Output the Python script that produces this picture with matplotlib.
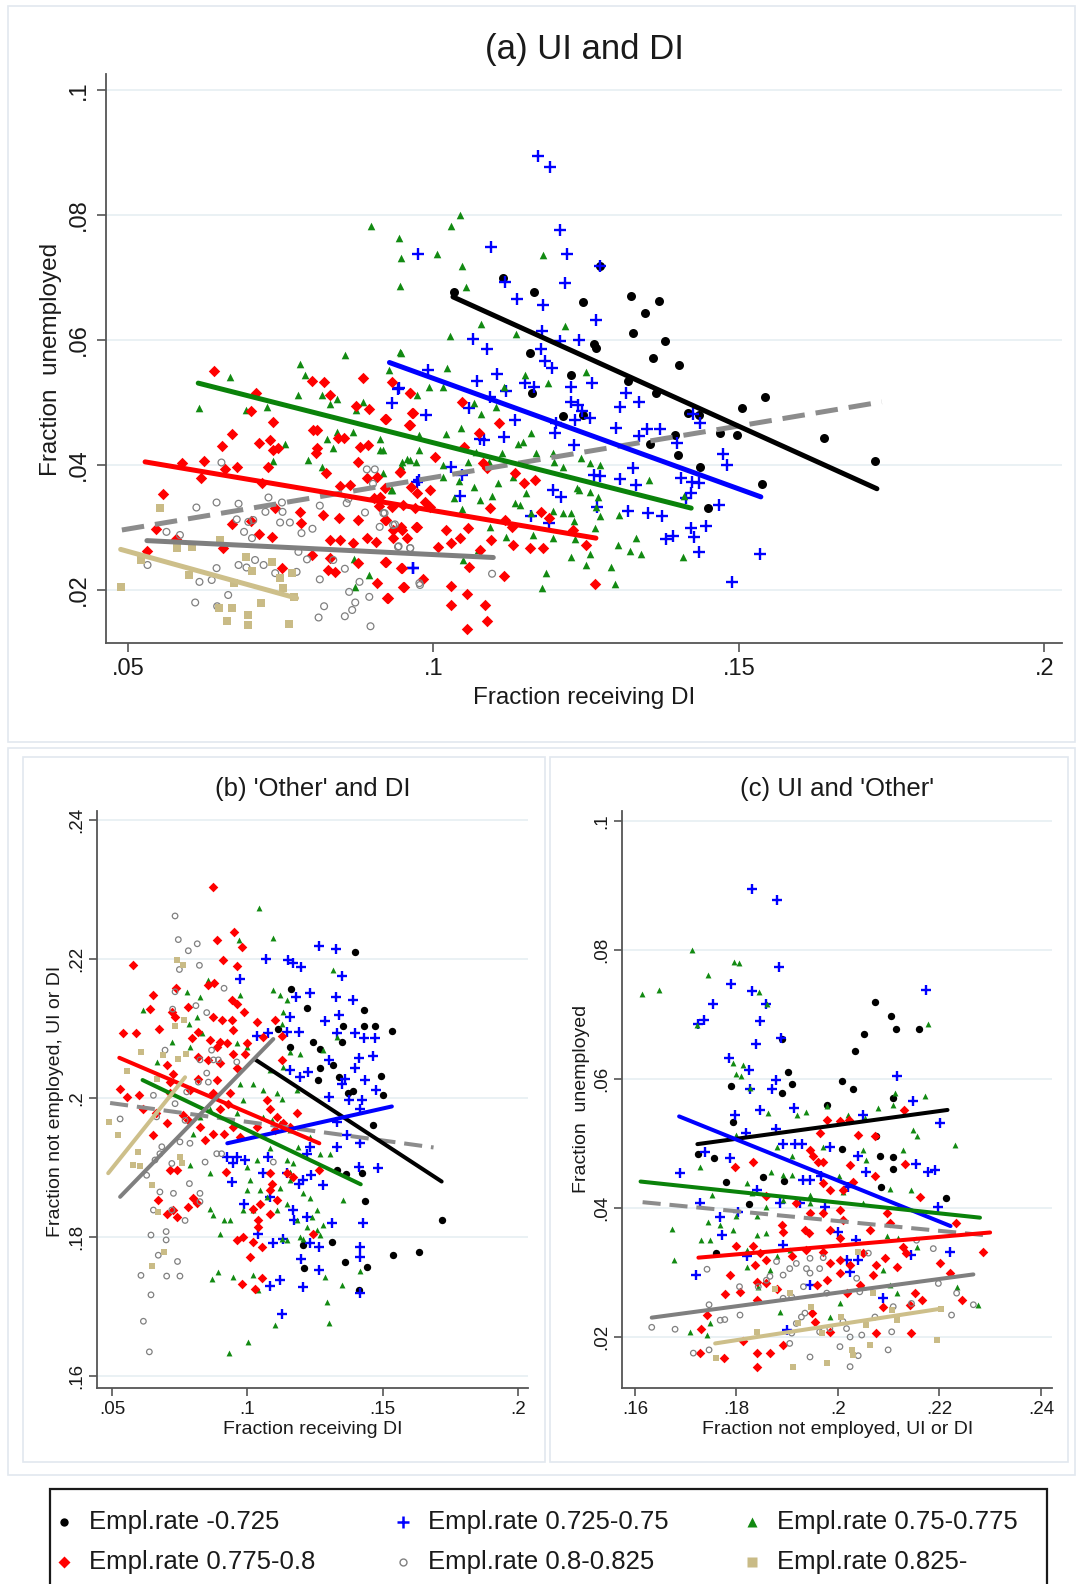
import numpy as np
import matplotlib.pyplot as plt
from matplotlib.patches import Rectangle
from matplotlib.lines import Line2D

plt.rcParams['font.family'] = ['Liberation Sans', 'DejaVu Sans']

W, H = 1079, 1584
TXT = '#1a1a1a'

groups = ['Empl.rate -0.725', 'Empl.rate 0.725-0.75', 'Empl.rate 0.75-0.775',
          'Empl.rate 0.775-0.8', 'Empl.rate 0.8-0.825', 'Empl.rate 0.825-']

# ---------------- panel (a): x = fraction receiving DI, y = fraction unemployed
a_black = [(.1034,.0677),(.1114,.0699),(.1164,.0677),(.1245,.0661),(.1323,.0670),(.1369,.0662),
           (.1346,.0643),(.1327,.0611),(.1379,.0598),(.1263,.0594),(.1266,.0587),(.1158,.0579),
           (.1225,.0544),(.1359,.0571),(.1402,.0560),(.1161,.0515),(.1212,.0478),(.1245,.0480),
           (.1318,.0534),(.1364,.0515),(.1417,.0483),(.1435,.0480),(.1395,.0448),(.1354,.0434),
           (.1400,.0416),(.1469,.0451),(.1497,.0448),(.1436,.0397),(.1449,.0331),(.1272,.0718),
           (.1505,.0491),(.1543,.0509),(.1639,.0443),(.1723,.0406),(.1538,.0370)]
a_blue = [(.1171,.0894),(.1191,.0877),(.1207,.0776),(.1095,.0748),(.0974,.0738),(.1218,.0737),
          (.1215,.0691),(.1117,.0693),(.1137,.0665),(.1180,.0656),(.1266,.0632),(.1272,.0718),
          (.1064,.0602),(.1087,.0585),(.1178,.0615),(.1238,.0600),(.1207,.0598),(.1176,.0586),
          (.1183,.0567),(.1194,.0555),(.0991,.0552),(.1104,.0545),(.1071,.0535),(.1150,.0532),
          (.1165,.0525),(.1118,.0519),(.0944,.0523),(.0932,.0499),(.1226,.0525),(.1260,.0532),
          (.1316,.0516),(.1336,.0501),(.1306,.0493),(.1225,.0501),(.1237,.0496),(.1059,.0492),
          (.1092,.0509),(.0988,.0480),(.1133,.0472),(.1201,.0467),(.1244,.0487),(.1257,.0476),
          (.1199,.0451),(.1232,.0472),(.1299,.0459),(.1349,.0458),(.1371,.0457),(.1337,.0446),
          (.1399,.0436),(.1425,.0482),(.1437,.0467),(.1474,.0417),(.1481,.0400),(.1230,.0432),
          (.1263,.0384),(.1273,.0382),(.1326,.0395),(.1332,.0368),(.1305,.0377),(.1406,.0380),
          (.1423,.0373),(.1434,.0371),(.1195,.0360),(.1209,.0349),(.1043,.0351),(.1047,.0384),
          (.1076,.0441),(.1083,.0440),(.1116,.0445),(.1029,.0397),(.0976,.0376),(.1268,.0333),
          (.1318,.0326),(.1352,.0323),(.1374,.0318),(.1422,.0355),(.1467,.0336),(.1421,.0299),
          (.1447,.0303),(.1427,.0285),(.1381,.0282),(.1393,.0287),(.1434,.0261),(.1489,.0213),
          (.1160,.0318),(.1190,.0307),(.0967,.0235),(.1414,.0347),(.1534,.0258),(.0942,.0522),
          (.0966,.0235),(.0973,.0373)]
a_green = [(.1044,.0800),(.1029,.0782),(.0944,.0763),(.0947,.0732),(.1006,.0738),(.1046,.0718),
           (.0945,.0687),(.1053,.0685),(.1179,.0736),(.1078,.0626),(.1027,.0606),(.1136,.0609),
           (.1216,.0623),(.0946,.0581),(.0928,.0552),(.1023,.0556),(.0993,.0525),(.1016,.0525),
           (.1115,.0525),(.1150,.0544),(.1188,.0531),(.1249,.0549),(.1067,.0499),(.1103,.0493),
           (.0976,.0448),(.1021,.0449),(.1045,.0460),(.1078,.0482),(.1160,.0451),(.1138,.0434),
           (.1147,.0437),(.1196,.0419),(.1168,.0420),(.1113,.0419),(.0977,.0424),(.1070,.0421),
           (.0971,.0405),(.1015,.0400),(.1057,.0405),(.1091,.0405),(.0957,.0409),(.0947,.0398),
           (.1016,.0381),(.1042,.0374),(.1066,.0365),(.1106,.0371),(.1130,.0381),(.1152,.0355),
           (.1133,.0339),(.1096,.0350),(.1076,.0344),(.1033,.0348),(.1046,.0329),(.1141,.0336),
           (.1160,.0323),(.1196,.0327),(.1212,.0324),(.1226,.0324),(.1235,.0363),(.1239,.0360),
           (.1256,.0357),(.1269,.0349),(.1266,.0333),(.1272,.0318),(.1264,.0300),(.1196,.0283),
           (.1163,.0288),(.1119,.0285),(.1092,.0301),(.1073,.0264),(.1048,.0248),(.1230,.0310),
           (.1231,.0282),(.1226,.0253),(.1256,.0257),(.1249,.0240),(.1302,.0272),(.1332,.0283),
           (.1321,.0263),(.1340,.0257),(.1409,.0253),(.1353,.0376),(.1272,.0400),(.1256,.0403),
           (.1241,.0411),(.1212,.0397),(.0931,.0360),(.1185,.0227),(.1177,.0203),(.1298,.0209),
           (.1291,.0237),(.1304,.0320),(.1411,.0350),(.1198,.0405),(.0917,.0387),(.0917,.0424),
           (.0667,.0541),(.0617,.0492),(.0727,.0493),(.0694,.0488),(.0782,.0561),(.0790,.0544),
           (.0779,.0512),(.0817,.0512),(.0842,.0505),(.0831,.0498),(.0855,.0576),(.0947,.0580),
           (.0885,.0501),(.0874,.0488),(.0757,.0433),(.0825,.0441),(.0835,.0427),(.0795,.0408),
           (.0817,.0397),(.0913,.0441),(.0912,.0424),(.0738,.0406),(.0869,.0453),(.0842,.0453),
           (.0948,.0405),(.0962,.0408),(.0932,.0360),(.0895,.0224),(.0870,.0249),(.0872,.0205),
           (.0973,.0512),(.0898,.0782)]
a_red = [(.0641,.0551),(.0710,.0516),(.0701,.0486),(.0737,.0469),(.0671,.0450),(.0654,.0430),
         (.0715,.0436),(.0732,.0440),(.0738,.0424),(.0746,.0428),(.0730,.0397),(.0802,.0534),
         (.0821,.0533),(.0831,.0512),(.0885,.0539),(.0962,.0516),(.0966,.0484),(.0961,.0464),
         (.0874,.0494),(.0895,.0490),(.0921,.0473),(.0803,.0456),(.0810,.0456),(.0843,.0443),
         (.0853,.0444),(.0809,.0427),(.0807,.0420),(.0880,.0429),(.0893,.0432),(.0877,.0405),
         (.0824,.0387),(.0891,.0379),(.0907,.0381),(.0921,.0363),(.0945,.0389),(.0589,.0403),
         (.0625,.0406),(.0659,.0393),(.0678,.0397),(.0619,.0379),(.0719,.0371),(.0557,.0354),
         (.0546,.0297),(.0531,.0263),(.0579,.0281),(.0656,.0267),(.0671,.0306),(.0701,.0311),
         (.0715,.0290),(.0735,.0285),(.0741,.0331),(.0782,.0325),(.0784,.0307),(.0820,.0320),
         (.0845,.0315),(.0864,.0368),(.0847,.0366),(.0877,.0312),(.0831,.0280),(.0847,.0280),
         (.0869,.0275),(.0891,.0283),(.0906,.0277),(.0923,.0312),(.0934,.0296),(.0948,.0296),
         (.0956,.0283),(.0973,.0301),(.0752,.0236),(.0801,.0256),(.0831,.0251),(.0828,.0232),
         (.0839,.0229),(.0877,.0243),(.0921,.0245),(.0948,.0235),(.0952,.0205),(.0926,.0188),
         (.0907,.0211),(.0970,.0331),(.0973,.0355),(.0933,.0333),(.0902,.0347),(.0911,.0334),
         (.0932,.0533),(.0961,.0516),(.0965,.0483),(.0960,.0464),(.0923,.0473),(.1046,.0501),
         (.1107,.0468),(.1075,.0452),(.1002,.0413),(.1050,.0429),(.1081,.0404),(.1087,.0395),
         (.0945,.0389),(.0964,.0365),(.0995,.0360),(.1133,.0387),(.1148,.0371),(.1166,.0376),
         (.0912,.0349),(.0950,.0336),(.0986,.0341),(.0995,.0333),(.1021,.0296),(.0972,.0301),
         (.0920,.0312),(.0947,.0301),(.0934,.0283),(.1029,.0275),(.1043,.0283),(.1007,.0269),
         (.1057,.0299),(.1092,.0331),(.1117,.0312),(.1128,.0301),(.1130,.0272),(.1158,.0268),
         (.1179,.0267),(.1176,.0325),(.1190,.0316),(.1228,.0296),(.1250,.0272),(.1095,.0280),
         (.1059,.0237),(.0923,.0245),(.0947,.0235),(.0983,.0217),(.0951,.0205),(.1029,.0206),
         (.1055,.0194),(.1115,.0222),(.1029,.0176),(.1084,.0176),(.1087,.0150),(.1055,.0138),
         (.0924,.0188),(.1264,.0210),(.1076,.0264)]
a_gray = [(.0653,.0404),(.0645,.0340),(.0612,.0332),(.0563,.0293),(.0585,.0288),(.0678,.0313),
          (.0681,.0338),(.0697,.0309),(.0705,.0312),(.0690,.0293),(.0703,.0283),(.0730,.0348),
          (.0752,.0340),(.0725,.0325),(.0753,.0325),(.0749,.0308),(.0765,.0308),(.0784,.0291),
          (.0802,.0298),(.0814,.0335),(.0861,.0346),(.0891,.0393),(.0904,.0393),(.0901,.0370),
          (.0888,.0324),(.0918,.0323),(.0937,.0305),(.0962,.0267),(.0978,.0208),(.0943,.0270),
          (.0722,.0240),(.0741,.0227),(.0694,.0236),(.0645,.0235),(.0637,.0216),(.0617,.0213),
          (.0664,.0192),(.0610,.0180),(.0646,.0174),(.0681,.0240),(.0708,.0248),(.0776,.0229),
          (.0814,.0217),(.0821,.0174),(.0812,.0156),(.0855,.0158),(.0867,.0168),(.0872,.0180),
          (.0862,.0197),(.0879,.0213),(.0895,.0189),(.0897,.0142),(.0855,.0234),(.0836,.0248),
          (.0793,.0249),(.0779,.0261),(.0532,.0240),(.0858,.0339),(.0920,.0323),(.0934,.0304),
          (.0912,.0301),(.0942,.0269),(.0962,.0267),(.0977,.0211),(.1096,.0226)]
a_tan = [(.0552,.0332),(.0488,.0205),(.0522,.0248),(.0581,.0267),(.0604,.0269),(.0651,.0280),
         (.0600,.0224),(.0674,.0211),(.0694,.0253),(.0703,.0231),(.0735,.0245),(.0749,.0220),
         (.0768,.0227),(.0754,.0203),(.0771,.0189),(.0717,.0180),(.0671,.0172),(.0649,.0171),
         (.0662,.0151),(.0697,.0160),(.0697,.0144),(.0763,.0145)]

# ---------------- panel (b): x = fraction receiving DI, y = fraction not employed
b_black = [(.1396,.2210),(.1162,.2157),(.1221,.2129),(.1431,.2127),(.1355,.2104),(.1431,.2104),
           (.1473,.2104),(.1534,.2096),(.1112,.2100),(.1349,.2081),(.1242,.2080),(.1269,.2070),
           (.1158,.2073),(.1269,.2044),(.1318,.2047),(.1340,.2031),(.1261,.2026),(.1373,.2008),
           (.1392,.2010),(.1494,.2032),(.1503,.2004),(.1466,.1962),(.1330,.1896),(.1364,.1891),
           (.1425,.1892),(.1435,.1852),(.1718,.1824),(.1314,.1793),(.1207,.1788),(.1210,.1755),
           (.1361,.1764),(.1441,.1757),(.1537,.1774),(.1636,.1779),(.1414,.1724)]
b_blue = [(.1266,.2219),(.1327,.2214),(.1069,.2200),(.1152,.2198),(.1170,.2195),(.1197,.2189),
          (.0973,.2172),(.1349,.2175),(.1180,.2146),(.1232,.2151),(.1327,.2146),(.1390,.2141),
          (.1158,.2117),(.1287,.2111),(.1337,.2119),(.1330,.2094),(.1398,.2093),(.1431,.2086),
          (.1472,.2086),(.1192,.2095),(.1035,.2089),(.1078,.2093),(.1146,.2095),(.1414,.2058),
          (.1463,.2060),(.1398,.2043),(.1303,.2055),(.1158,.2040),(.1195,.2031),(.1226,.2038),
          (.1362,.2028),(.1435,.2026),(.1349,.2021),(.1303,.2002),(.1377,.1997),(.1423,.1998),
          (.1476,.2011),(.1417,.1985),(.1330,.1966),(.1367,.1947),(.1417,.1935),(.1232,.1930),
          (.1220,.1920),(.1330,.1930),(.0924,.1916),(.0961,.1916),(.0992,.1911),(.0946,.1907),
          (.1078,.1916),(.1059,.1892),(.1146,.1892),(.1207,.1882),(.1234,.1889),(.1281,.1875),
          (.1192,.1877),(.1414,.1901),(.1484,.1899),(.0942,.1880),(.0986,.1848),(.1084,.1858),
          (.1168,.1839),(.1173,.1824),(.1220,.1829),(.1312,.1820),(.1429,.1820),(.1096,.1791),
          (.1133,.1798),(.1232,.1791),(.1263,.1786),(.1417,.1786),(.1417,.1772),(.1197,.1768),
          (.1266,.1753),(.1121,.1738),(.1082,.1730),(.1207,.1729),(.1417,.1719),(.1127,.1689),
          (.1041,.1805)]
b_green = [(.1043,.2273),(.1094,.2230),(.0971,.2227),(.0776,.2153),(.0825,.2146),(.0856,.2170),
           (.0973,.2148),(.1094,.2155),(.1121,.2148),(.1146,.2141),(.1133,.2124),(.1127,.2107),
           (.0813,.2117),(.0786,.2107),(.0616,.2127),(.0721,.2081),(.0665,.2052),(.0788,.2074),
           (.0831,.2093),(.0961,.2079),(.0998,.2074),(.1158,.2067),(.1195,.2064),(.1084,.2040),
           (.1133,.2045),(.1318,.2184),(.1330,.2088),(.1281,.2069),(.0973,.2021),(.1022,.2021),
           (.1059,.2011),(.1109,.2007),(.1127,.1999),(.1183,.2011),(.0985,.1997),(.0961,.1978),
           (.0862,.1985),(.0825,.1973),(.0801,.1949),(.1059,.1973),(.1090,.1968),(.1121,.1964),
           (.1158,.1954),(.1189,.1930),(.1232,.1944),(.1269,.1920),(.1306,.1920),(.1084,.1928),
           (.1146,.1911),(.1170,.1906),(.1158,.1894),(.1035,.1911),(.0998,.1901),(.0862,.1892),
           (.0788,.1904),(.1010,.1882),(.1047,.1868),(.1121,.1870),(.1158,.1882),(.1207,.1863),
           (.1232,.1856),(.1256,.1839),(.1355,.1853),(.1146,.1848),(.1109,.1839),(.1183,.1824),
           (.1220,.1815),(.1281,.1817),(.0998,.1868),(.0985,.1839),(.0936,.1824),(.0912,.1824),
           (.0862,.1841),(.0899,.1805),(.1127,.1798),(.1146,.1796),(.1195,.1800),(.1256,.1810),
           (.1269,.1803),(.1417,.1752),(.1349,.1731),(.1287,.1743),(.1022,.1745),(.0948,.1743),
           (.0893,.1750),(.0868,.1740),(.1293,.1707),(.1300,.1676),(.1102,.1673),(.1004,.1649),
           (.1041,.1724),(.1207,.1798),(.0875,.1832),(.1072,.1858),(.1022,.1839),(.1238,.1829),
           (.0933,.1634)]
b_red = [(.0872,.2303),(.0951,.2239),(.0887,.2228),(.0979,.2217),(.0909,.2199),(.0961,.2190),
         (.0576,.2191),(.0856,.2162),(.0878,.2166),(.0737,.2159),(.0653,.2148),(.0640,.2128),
         (.0782,.2131),(.0942,.2141),(.0961,.2136),(.0988,.2124),(.0721,.2124),(.0733,.2117),
         (.0875,.2116),(.0905,.2113),(.0942,.2113),(.1035,.2110),(.1102,.2112),(.0675,.2100),
         (.0542,.2094),(.0589,.2093),(.0819,.2095),(.0948,.2098),(.1127,.2089),(.1059,.2088),
         (.0794,.2086),(.0862,.2083),(.0899,.2081),(.0924,.2079),(.0998,.2079),(.0887,.2074),
         (.0948,.2064),(.0992,.2064),(.0702,.2047),(.0819,.2059),(.0856,.2055),(.0899,.2050),
         (.0961,.2043),(.1127,.2055),(.0724,.2035),(.0714,.2023),(.0819,.2028),(.0887,.2026),
         (.0788,.2011),(.0875,.2007),(.0936,.2007),(.0530,.2013),(.0557,.2001),(.0601,.2004),
         (.0714,.2007),(.0930,.1992),(.0899,.1985),(.0616,.1985),(.0663,.1978),(.0702,.1964),
         (.0764,.1976),(.0825,.1959),(.0844,.1940),(.0875,.1948),(.0912,.1949),(.0948,.1959),
         (.0973,.1944),(.0653,.1947),(.1072,.1997),(.1084,.1985),(.1109,.1973),(.1133,.1964),
         (.1158,.1959),(.1183,.1978),(.1102,.1954),(.1035,.1959),(.0782,.1968),(.0714,.1896),
         (.0739,.1896),(.0921,.1893),(.1084,.1892),(.1090,.1877),(.1146,.1892),(.1170,.1887),
         (.1263,.1896),(.1084,.1868),(.1109,.1853),(.1047,.1848),(.1084,.1834),(.1022,.1841),
         (.1041,.1824),(.1041,.1815),(.0671,.1853),(.0727,.1839),(.0801,.1856),(.0813,.1849),
         (.0782,.1844),(.0702,.1834),(.0739,.1829),(.0961,.1796),(.0985,.1800),(.1022,.1793),
         (.1053,.1786),(.1010,.1772),(.1244,.1805),(.0979,.1733),(.1028,.1726),(.1056,.1741)]
b_gray = [(.0733,.2262),(.0745,.2228),(.0782,.2212),(.0815,.2222),(.0823,.2191),(.0749,.2185),
          (.0914,.2158),(.0733,.2153),(.0810,.2133),(.0850,.2123),(.0724,.2128),(.0696,.2069),
          (.0868,.2069),(.0825,.2055),(.0875,.2055),(.0893,.2055),(.0961,.2052),(.0850,.2036),
          (.0819,.2023),(.0856,.2023),(.0653,.2004),(.0776,.2009),(.0733,.1992),(.0665,.1973),
          (.0530,.1970),(.0770,.1968),(.0751,.1937),(.0788,.1935),(.0684,.1930),(.0887,.1920),
          (.0905,.1920),(.0844,.1908),(.0677,.1920),(.0659,.1911),(.0721,.1906),(.0628,.1889),
          (.0786,.1877),(.0677,.1865),(.0727,.1863),(.0825,.1863),(.0825,.1851),(.0653,.1839),
          (.0721,.1839),(.0770,.1824),(.0644,.1803),(.0700,.1808),(.0700,.1796),(.0671,.1774),
          (.0742,.1765),(.0607,.1745),(.0702,.1744),(.0751,.1744),(.0644,.1717),(.0616,.1679),
          (.0638,.1635),(.1096,.1908)]
b_tan = [(.0739,.2199),(.0764,.2191),(.0606,.2066),(.0554,.2039),(.0690,.2062),(.0745,.2056),
         (.0774,.2063),(.0733,.2104),(.0766,.2112),(.0665,.2028),(.0490,.1965),(.0523,.1947),
         (.0597,.1922),(.0579,.1904),(.0604,.1903),(.0751,.1916),(.0757,.1906),(.0647,.1875),
         (.0671,.1836),(.0692,.1779),(.0647,.1758)]

# ---------------- panel (c): x = fraction not employed, y = fraction unemployed
c_black = [(.2074,.0719),(.2104,.0697),(.2114,.0677),(.2160,.0677),(.2051,.0669),(.2033,.0643),
           (.1889,.0662),(.1902,.0611),(.1909,.0592),(.1889,.0578),(.1789,.0589),(.1794,.0533),
           (.2009,.0597),(.2029,.0585),(.1978,.0559),(.2108,.0571),(.1725,.0483),(.1756,.0477),
           (.1779,.0441),(.1853,.0448),(.1894,.0442),(.1825,.0406),(.2008,.0492),(.2076,.0512),
           (.2083,.0480),(.2108,.0479),(.2108,.0460),(.2084,.0433),(.2213,.0415),(.1760,.0330)]
c_blue = [(.1830,.0894),(.1880,.0877),(.1884,.0774),(.1790,.0748),(.1831,.0737),(.1859,.0717),
          (.1753,.0716),(.1737,.0691),(.1725,.0686),(.1846,.0690),(.1838,.0655),(.1888,.0663),
          (.1786,.0632),(.1825,.0614),(.1878,.0599),(.1871,.0584),(.1826,.0584),(.1797,.0544),
          (.1846,.0552),(.1914,.0555),(.1878,.0522),(.1819,.0516),(.1787,.0477),(.1738,.0487),
          (.1689,.0455),(.1891,.0499),(.1915,.0499),(.1930,.0499),(.1932,.0443),(.1945,.0443),
          (.1966,.0449),(.1984,.0495),(.2040,.0480),(.2050,.0544),(.2117,.0604),(.2148,.0566),
          (.2173,.0738),(.2202,.0531),(.2191,.0459),(.2178,.0456),(.2198,.0402),(.2153,.0468),
          (.2056,.0456),(.2020,.0433),(.1974,.0402),(.1925,.0407),(.1886,.0407),(.1840,.0428),
          (.1728,.0408),(.1768,.0386),(.1804,.0394),(.1821,.0325),(.1892,.0343),(.2001,.0363),
          (.2035,.0350),(.2018,.0319),(.2040,.0319),(.2024,.0301),(.1945,.0281),(.2088,.0260),
          (.2145,.0327),(.2221,.0331),(.1720,.0296),(.1771,.0358),(.1899,.0211)]
c_green = [(.1712,.0800),(.1795,.0782),(.1806,.0780),(.1744,.0761),(.1845,.0735),(.1860,.0717),
           (.1723,.0683),(.1648,.0738),(.1613,.0732),(.1794,.0625),(.1813,.0622),(.1800,.0608),
           (.1809,.0605),(.1827,.0586),(.2112,.0579),(.2171,.0574),(.2178,.0686),(.1863,.0547),
           (.1919,.0544),(.1938,.0549),(.1978,.0558),(.2020,.0544),(.2053,.0539),(.2079,.0555),
           (.2109,.0560),(.2148,.0521),(.2155,.0511),(.2230,.0498),(.2129,.0490),(.1799,.0513),
           (.1879,.0495),(.1909,.0480),(.1971,.0495),(.2050,.0490),(.2056,.0474),(.1869,.0456),
           (.1892,.0451),(.1909,.0451),(.1751,.0420),(.1820,.0438),(.1945,.0420),(.2003,.0449),
           (.2010,.0425),(.1945,.0407),(.1892,.0412),(.1859,.0402),(.1830,.0423),(.1840,.0387),
           (.1768,.0374),(.1800,.0387),(.2050,.0407),(.2102,.0430),(.2145,.0428),(.1744,.0379),
           (.1731,.0350),(.1748,.0351),(.1794,.0366),(.1840,.0358),(.1859,.0361),(.1820,.0335),
           (.1879,.0325),(.1905,.0335),(.2096,.0356),(.2119,.0353),(.2155,.0340),(.1820,.0309),
           (.1866,.0304),(.1843,.0278),(.1886,.0239),(.1984,.0231),(.2004,.0252),(.2050,.0278),
           (.2102,.0281),(.2116,.0268),(.2089,.0304),(.2234,.0278),(.2276,.0250),(.1672,.0368),
           (.1676,.0319),(.1748,.0221),(.1708,.0208),(.1741,.0203),(.1728,.0464)]
c_red = [(.2131,.0552),(.1978,.0537),(.2004,.0535),(.2022,.0536),(.1964,.0516),(.2040,.0513),
         (.2073,.0511),(.1945,.0490),(.1951,.0480),(.1961,.0472),(.1971,.0472),(.1832,.0472),
         (.1797,.0464),(.2024,.0467),(.2132,.0468),(.1971,.0438),(.1984,.0428),(.2010,.0428),
         (.2030,.0441),(.2073,.0449),(.2162,.0417),(.1859,.0418),(.1918,.0407),(.1945,.0392),
         (.1971,.0392),(.2004,.0397),(.2010,.0381),(.2096,.0392),(.2102,.0376),(.2232,.0377),
         (.1889,.0374),(.1892,.0363),(.1935,.0366),(.1943,.0361),(.1984,.0366),(.2004,.0353),
         (.2063,.0366),(.1800,.0341),(.1833,.0341),(.1846,.0330),(.1836,.0312),(.1859,.0319),
         (.1909,.0325),(.1938,.0335),(.1971,.0332),(.1984,.0314),(.2004,.0319),(.2024,.0312),
         (.2050,.0330),(.2076,.0312),(.2093,.0322),(.2116,.0309),(.2129,.0340),(.2135,.0330),
         (.2201,.0314),(.2221,.0299),(.1787,.0296),(.1840,.0286),(.1859,.0283),(.1879,.0275),
         (.1777,.0267),(.1807,.0269),(.1840,.0257),(.1958,.0281),(.1978,.0288),(.2004,.0299),
         (.2017,.0268),(.2043,.0281),(.2070,.0296),(.2089,.0247),(.2152,.0268),(.2165,.0257),
         (.2142,.0250),(.2244,.0257),(.1948,.0237),(.1955,.0224),(.1984,.0208),(.2076,.0206),
         (.2145,.0206),(.1741,.0234),(.1731,.0213),(.1728,.0175),(.1840,.0175),(.1866,.0175),
         (.1892,.0188),(.1813,.0193),(.1840,.0154),(.2286,.0332),(.1775,.0167)]
c_gray = [(.1742,.0305),(.1633,.0215),(.1679,.0212),(.1746,.0250),(.1768,.0226),(.1777,.0227),
          (.1807,.0234),(.1746,.0180),(.1715,.0175),(.1843,.0278),(.1866,.0294),(.1892,.0296),
          (.1905,.0306),(.1918,.0314),(.1938,.0306),(.1945,.0322),(.1964,.0306),(.1971,.0323),
          (.1932,.0278),(.1909,.0262),(.1892,.0260),(.1935,.0237),(.1918,.0221),(.1909,.0206),
          (.1905,.0190),(.1928,.0231),(.1964,.0208),(.1984,.0213),(.2010,.0224),(.2017,.0213),
          (.2024,.0200),(.2004,.0185),(.2040,.0171),(.2024,.0154),(.1945,.0169),(.2047,.0203),
          (.2073,.0231),(.2106,.0208),(.2099,.0180),(.2060,.0330),(.2109,.0247),(.2145,.0252),
          (.2155,.0350),(.2188,.0337),(.2198,.0283),(.2224,.0234),(.2234,.0268),(.2267,.0250),
          (.2043,.0270),(.2037,.0291),(.1879,.0317),(.1859,.0288),(.1806,.0278),(.1945,.0299),
          (.1978,.0268)]
c_tan = [(.1760,.0168),(.1840,.0208),(.1876,.0275),(.1905,.0268),(.1912,.0154),(.1922,.0222),
         (.1947,.0247),(.1968,.0206),(.1978,.0159),(.2007,.0231),(.2027,.0180),(.2030,.0172),
         (.2040,.0332),(.2056,.0219),(.2063,.0188),(.2070,.0268),(.2116,.0226),(.2106,.0242),
         (.2196,.0196),(.2204,.0244)]

# fitted lines, order: black, blue, green, red, gray, tan, all (dashed)
a_fit_x = [(.1032,.1726),(.0928,.1536),(.0615,.1422),(.0528,.1266),(.0531,.1098),(.0488,.0776),(.0490,.1734)]
a_fit_y = [(.0669,.0362),(.0564,.0349),(.0531,.0331),(.0405,.0283),(.0279,.0252),(.0265,.0187),(.0296,.0501)]
b_fit_x = [(.1031,.1718),(.0926,.1534),(.0613,.1419),(.0527,.1266),(.0530,.1096),(.0486,.0770),(.0493,.1688)]
b_fit_y = [(.2055,.1880),(.1935,.1988),(.2026,.1876),(.2058,.1935),(.1858,.2085),(.1892,.2030),(.1993,.1929)]
c_fit_x = [(.1723,.2216),(.1687,.2222),(.1611,.2280),(.1725,.2300),(.1633,.2267),(.1758,.2204),(.1615,.2300)]
c_fit_y = [(.0499,.0552),(.0542,.0372),(.0441,.0385),(.0323,.0362),(.0230,.0297),(.0190,.0244),(.0409,.0357)]

ui_ticks = [.02, .04, .06, .08, .1]
ui_labels = ['.02', '.04', '.06', '.08', '.1']
di_ticks = [.05, .1, .15, .2]
di_labels = ['.05', '.1', '.15', '.2']
ot_ticks = [.16, .18, .2, .22, .24]
ot_labels = ['.16', '.18', '.2', '.22', '.24']

# marker styles per group
colors = ['#000000', '#0000ff', '#128a12', '#ff0000', '#808080', '#c9bb86']
markers = ['o', '+', '^', 'D', 'o', 's']
line_colors = ['#000000', '#0000ff', '#0a820a', '#ff0000', '#7f7f7f', '#cdbf8a']


def box(x0, y0, x1, y1):
    return [x0 / W, 1 - y1 / H, (x1 - x0) / W, (y1 - y0) / H]


def frame(fig, x0, y0, x1, y1, ec='#e2e8ef', lw=1.2, z=0):
    fig.add_artist(Rectangle((x0 / W, 1 - y1 / H), (x1 - x0) / W, (y1 - y0) / H,
                             transform=fig.transFigure, fill=False, ec=ec, lw=lw, zorder=z))


def ftext(fig, x, y, s, size, rot=0):
    fig.text(x / W, 1 - y / H, s, fontsize=size, rotation=rot, ha='center', va='center', color=TXT)


def draw_panel(ax, pts, fx, fy, sizes, lw, xlim, ylim, xt, xl, yt, yl, tsize, tlen, ypad, xpad):
    for i, p in enumerate(pts):
        p = np.array(p)
        if i == 4:
            ax.scatter(p[:, 0], p[:, 1], s=sizes[i], marker='o', facecolors='none',
                       edgecolors=colors[i], linewidths=0.9, zorder=2)
        elif i == 1:
            ax.scatter(p[:, 0], p[:, 1], s=sizes[i], marker='+', c=colors[i],
                       linewidths=1.7, zorder=2)
        else:
            ax.scatter(p[:, 0], p[:, 1], s=sizes[i], marker=markers[i], c=colors[i],
                       linewidths=0, zorder=2)
    ax.plot(fx[6], fy[6], color='#8c8c8c', lw=lw, dashes=(4.5, 2.2), zorder=3,
            solid_capstyle='butt')
    for i in range(6):
        ax.plot(fx[i], fy[i], color=line_colors[i], lw=lw, zorder=4, solid_capstyle='round')
    ax.set_xlim(*xlim)
    ax.set_ylim(*ylim)
    ax.set_xticks(xt, xl)
    ax.set_yticks(yt, yl)
    ax.grid(axis='y', color='#e6eff2', lw=1.2)
    ax.set_axisbelow(True)
    for s in ['top', 'right']:
        ax.spines[s].set_visible(False)
    for s in ['left', 'bottom']:
        ax.spines[s].set_color('#555555')
        ax.spines[s].set_linewidth(1.3)
    ax.tick_params(axis='both', colors='#555555', labelcolor=TXT, labelsize=tsize,
                   length=tlen, width=1.2)
    ax.tick_params(axis='y', pad=ypad)
    ax.tick_params(axis='x', pad=xpad)
    plt.setp(ax.get_yticklabels(), rotation=90, va='center')


fig = plt.figure(figsize=(W / 100, H / 100), dpi=100)
fig.patch.set_facecolor('white')

frame(fig, 8, 6, 1075, 742)
frame(fig, 8, 748, 1075, 1475)
frame(fig, 23, 757, 545, 1462)
frame(fig, 550, 757, 1068, 1462)

ax_a = fig.add_axes(box(106, 74, 1062, 643))
draw_panel(ax_a, [a_black, a_blue, a_green, a_red, a_gray, a_tan], a_fit_x, a_fit_y,
           [42, 64, 30, 34, 24, 34], 3.6, (.0464, .2029), (.01152, .10256),
           di_ticks, di_labels, ui_ticks, ui_labels, 17, 6.5, 5, 4)

ax_b = fig.add_axes(box(97, 811, 528, 1388))
draw_panel(ax_b, [b_black, b_blue, b_green, b_red, b_gray, b_tan], b_fit_x, b_fit_y,
           [28, 44, 18, 24, 16, 24], 2.9, (.04446, .2037), (.1583, .2413),
           di_ticks, di_labels, ot_ticks, ot_labels, 13.5, 5.5, 3, 4)

ax_c = fig.add_axes(box(622, 811, 1052, 1388))
draw_panel(ax_c, [c_black, c_blue, c_green, c_red, c_gray, c_tan], c_fit_x, c_fit_y,
           [28, 44, 18, 24, 16, 24], 2.9, (.15744, .2422), (.01209, .10155),
           ot_ticks, ot_labels, ui_ticks, ui_labels, 13.5, 5.5, 3, 4)

# titles and axis titles
ftext(fig, 584, 49, '(a) UI and DI', 25)
ftext(fig, 584, 698, 'Fraction receiving DI', 17.5)
ftext(fig, 51, 359, 'Fraction  unemployed', 17.5, 90)
ftext(fig, 313, 789, "(b) 'Other' and DI", 18.5)
ftext(fig, 837, 789, "(c) UI and 'Other'", 18.5)
ftext(fig, 313, 1430, 'Fraction receiving DI', 14)
ftext(fig, 838, 1430, 'Fraction not employed, UI or DI', 14)
ftext(fig, 56, 1101, 'Fraction not employed, UI or DI', 14, 90)
ftext(fig, 581, 1099, 'Fraction  unemployed', 14, 90)

# legend
frame(fig, 50, 1489, 1047, 1600, ec='#1a1a1a', lw=1.6, z=5)
leg_x = [64, 403, 752, 64, 403, 752]
leg_y = [1522, 1522, 1522, 1562, 1562, 1562]
leg_order = [0, 1, 2, 3, 4, 5]
leg_ms = [6, 8, 6.5, 6, 5, 6.5]
for k, i in enumerate(leg_order):
    mx, my = leg_x[k] / W, 1 - leg_y[k] / H
    if i == 4:
        art = Line2D([mx], [my], marker='o', ms=leg_ms[i], mfc='none', mec=colors[i], mew=1,
                     ls='none', transform=fig.transFigure)
    elif i == 1:
        art = Line2D([mx], [my], marker='+', ms=leg_ms[i], mec=colors[i], mew=1.8,
                     ls='none', transform=fig.transFigure)
    else:
        art = Line2D([mx], [my], marker=markers[i], ms=leg_ms[i], mfc=colors[i], mec='none',
                     ls='none', transform=fig.transFigure)
    fig.add_artist(art)
    fig.text((leg_x[k] + 25) / W, my, groups[i], fontsize=18.5, va='center', ha='left', color=TXT)

fig.savefig('out.png', dpi=100)
